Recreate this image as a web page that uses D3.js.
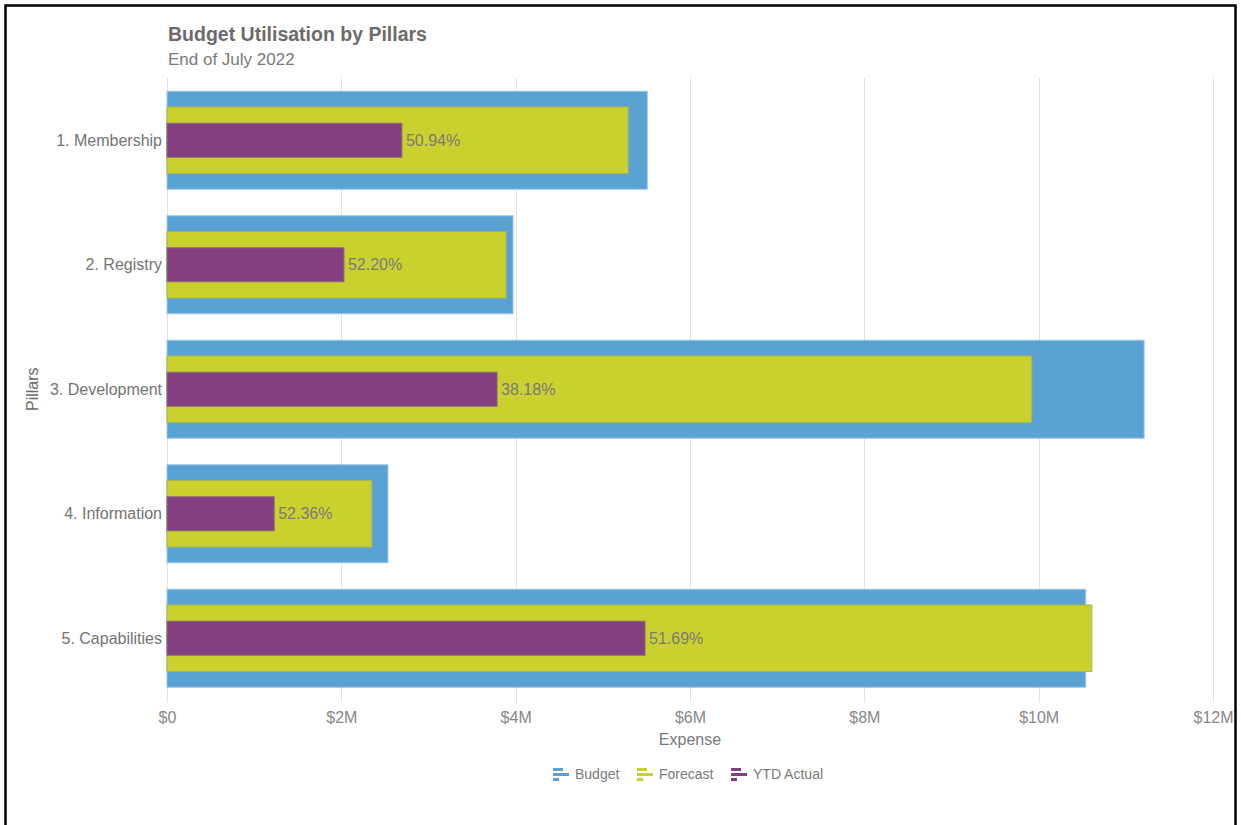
<!DOCTYPE html>
<html>
<head>
<meta charset="utf-8">
<script src="https://cdn.jsdelivr.net/npm/d3@7/dist/d3.min.js"></script>
<style>
  html, body { margin: 0; padding: 0; background: #fff; }
  svg { display: block; font-family: "Liberation Sans", Arial, sans-serif; }
</style>
</head>
<body>
<svg id="chart" width="1241" height="825"></svg>
<script>
// Pillar categories and expense figures (in $M)
const pillars = ["1. Membership", "2. Registry", "3. Development", "4. Information", "5. Capabilities"];
const budget = [5.51, 3.97, 11.21, 2.535, 10.54];
const forecast = [5.29, 3.89, 9.92, 2.35, 10.61];
const ytdActual = [2.695, 2.03, 3.787, 1.23, 5.484];
const utilisationLabels = ["50.94%", "52.20%", "38.18%", "52.36%", "51.69%"];
const xTicks = [0, 2, 4, 6, 8, 10, 12];

const seriesNames = ["Budget", "Forecast", "YTD Actual"];
const seriesColors = ["#5ba2d4", "#c9d12f", "#833f82"];

const svg = d3.select("#chart");

// outer frame
svg.append("rect")
  .attr("x", 5.5).attr("y", 5.5)
  .attr("width", 1230).attr("height", 840)
  .attr("fill", "none").attr("stroke", "#000").attr("stroke-width", 2.5);

const plot = { left: 167, right: 1213, top: 78, bottom: 700.5 };

const x = d3.scaleLinear().domain([0, 12]).range([plot.left, plot.right]);
const y = d3.scaleBand().domain(pillars).range([plot.top, plot.bottom]).padding(0);

// vertical grid lines
svg.append("g")
  .selectAll("line")
  .data(xTicks)
  .join("line")
  .attr("x1", d => Math.round(x(d)) + 0.5)
  .attr("x2", d => Math.round(x(d)) + 0.5)
  .attr("y1", plot.top)
  .attr("y2", plot.bottom + 2)
  .attr("stroke", "#e3e3e3")
  .attr("stroke-width", 1);

// bottom axis labels
const xAxis = d3.axisBottom(x)
  .tickValues(xTicks)
  .tickSize(0)
  .tickPadding(0)
  .tickFormat(d => d === 0 ? "$0" : `$${d}M`);

const gx = svg.append("g")
  .attr("transform", `translate(0, ${plot.bottom})`)
  .call(xAxis);
gx.select(".domain").remove();
gx.selectAll("text")
  .attr("y", 22.5)
  .attr("dy", null)
  .attr("fill", "#888")
  .attr("font-size", 16);

// left axis category labels
const yAxis = d3.axisLeft(y).tickSize(0).tickPadding(5);
const gy = svg.append("g")
  .attr("transform", `translate(${plot.left}, 0)`)
  .call(yAxis);
gy.select(".domain").remove();
gy.selectAll("text")
  .attr("fill", "#747474")
  .attr("font-size", 16)
  .attr("dy", "0.35em");

// bars: budget (widest), forecast, YTD actual (narrowest)
const bw = y.bandwidth();
const layers = [
  { values: budget, h: bw * 0.787, color: seriesColors[0], stroke: "#9cc8e8" },
  { values: forecast, h: bw * 0.535, color: seriesColors[1], stroke: "#aab454" },
  { values: ytdActual, h: bw * 0.273, color: seriesColors[2], stroke: "#8f6a77" }
];

layers.forEach(layer => {
  svg.append("g")
    .selectAll("rect")
    .data(pillars)
    .join("rect")
    .attr("x", x(0))
    .attr("y", d => y(d) + (bw - layer.h) / 2)
    .attr("width", (d, i) => x(layer.values[i]) - x(0))
    .attr("height", layer.h)
    .attr("fill", layer.color)
    .attr("stroke", layer.stroke)
    .attr("stroke-width", 1);
});

// utilisation labels on the YTD bars
svg.append("g")
  .selectAll("text")
  .data(pillars)
  .join("text")
  .attr("x", (d, i) => x(ytdActual[i]) + 4)
  .attr("y", d => y(d) + bw / 2)
  .attr("dy", "0.35em")
  .attr("fill", "#7a7a7a")
  .attr("font-size", 16)
  .text((d, i) => utilisationLabels[i]);

// titles
svg.append("text")
  .attr("x", 168).attr("y", 41)
  .attr("fill", "#6b6b6b")
  .attr("font-size", 19.5)
  .attr("font-weight", "bold")
  .text("Budget Utilisation by Pillars");

svg.append("text")
  .attr("x", 168).attr("y", 65)
  .attr("fill", "#7a7a7a")
  .attr("font-size", 17)
  .text("End of July 2022");

// axis titles
svg.append("text")
  .attr("x", (plot.left + plot.right) / 2).attr("y", 745)
  .attr("text-anchor", "middle")
  .attr("fill", "#7a7a7a")
  .attr("font-size", 16)
  .text("Expense");

svg.append("text")
  .attr("transform", `translate(38, ${(plot.top + plot.bottom) / 2}) rotate(-90)`)
  .attr("text-anchor", "middle")
  .attr("fill", "#6b6b6b")
  .attr("font-size", 16)
  .text("Pillars");

// legend
const legendX = [553, 637, 731];
const legend = svg.append("g")
  .selectAll("g")
  .data(seriesNames)
  .join("g")
  .attr("transform", (d, i) => `translate(${legendX[i]}, 768)`);

legend.each(function (d, i) {
  const g = d3.select(this);
  [[0, 10], [5, 16], [10, 6]].forEach(([dy, w]) => {
    g.append("rect")
      .attr("x", 0).attr("y", dy)
      .attr("width", w).attr("height", 3)
      .attr("fill", seriesColors[i]);
  });
  g.append("text")
    .attr("x", 22).attr("y", 6.5)
    .attr("dy", "0.35em")
    .attr("fill", "#7a7a7a")
    .attr("font-size", 14)
    .text(d);
});
</script>
</body>
</html>
